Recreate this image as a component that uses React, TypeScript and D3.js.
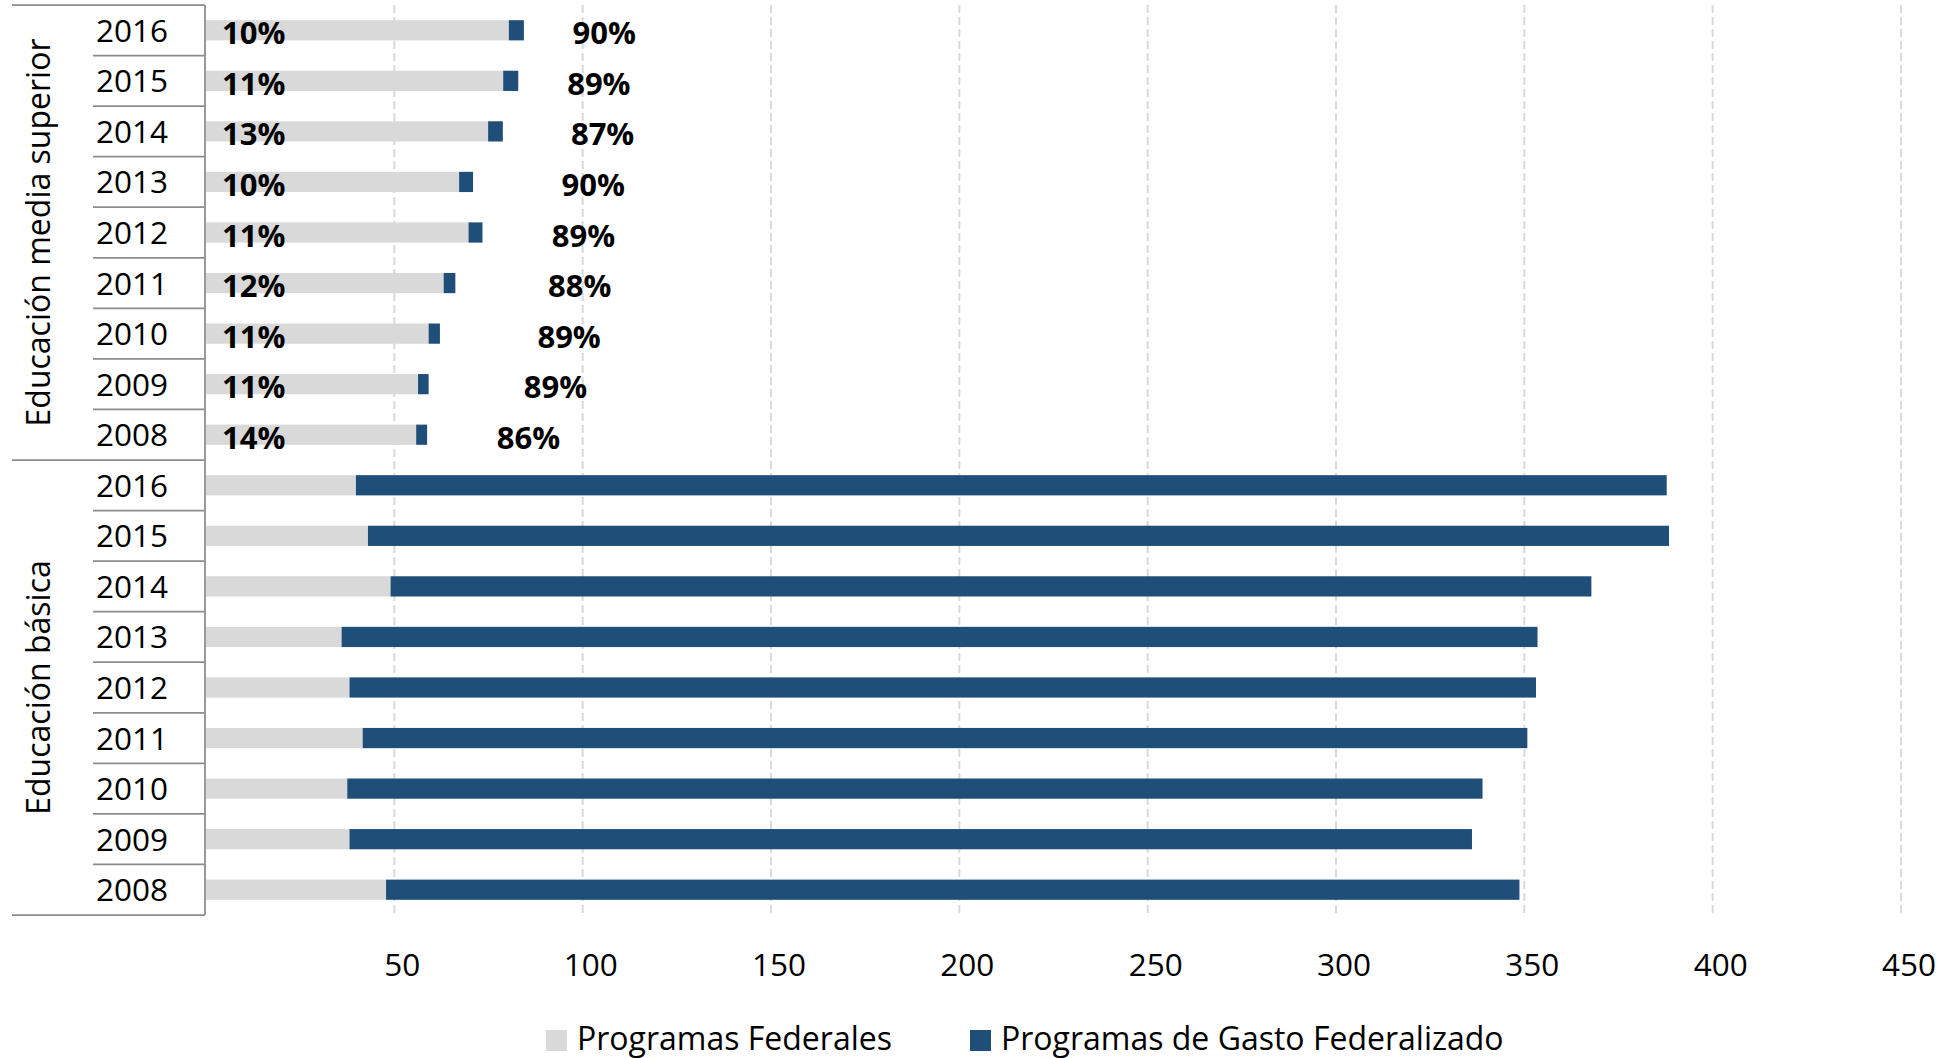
import * as d3 from 'd3'

// años de cada bloque (de arriba hacia abajo)
const years = ['2016', '2015', '2014', '2013', '2012', '2011', '2010', '2009', '2008']
const groups = ['Educación media superior', 'Educación básica']

// Educación media superior
const emsFederales = [80.4, 78.9, 74.9, 67.2, 69.7, 63.1, 59.1, 56.3, 55.8]
const emsGasto = [4.0, 4.0, 3.9, 3.7, 3.7, 3.1, 3.0, 2.8, 2.9]
const emsPctFed = ['10%', '11%', '13%', '10%', '11%', '12%', '11%', '11%', '14%']
const emsPctGasto = ['90%', '89%', '87%', '90%', '89%', '88%', '89%', '89%', '86%']
const emsPctGastoAt = [105.7, 104.3, 105.3, 102.8, 100.2, 99.2, 96.4, 92.8, 85.6]

// Educación básica
const ebFederales = [39.8, 43.0, 49.0, 36.0, 38.1, 41.6, 37.5, 38.1, 47.8]
const ebGasto = [348.0, 345.4, 318.8, 317.5, 315.0, 309.2, 301.4, 298.0, 300.9]

const xTicks = [50, 100, 150, 200, 250, 300, 350, 400, 450]
const legendItems = ['Programas Federales', 'Programas de Gasto Federalizado']

const W = 1954
const H = 1058
const FONT = '"Open Sans", "Noto Sans", sans-serif'
const GRAY = '#d9d9d9'
const BLUE = '#1f4e79'
const LINE = '#8c8c8c'

export default function App() {
  const rows = [
    ...years.map((yr, i) => ({ key: 'ems-' + yr, year: yr, fed: emsFederales[i], gasto: emsGasto[i], i, top: true })),
    ...years.map((yr, i) => ({ key: 'eb-' + yr, year: yr, fed: ebFederales[i], gasto: ebGasto[i], i, top: false })),
  ]

  const x = d3.scaleLinear().domain([0, 450]).range([206, 1901])
  const y = d3.scaleBand<string>()
    .domain(rows.map(r => r.key))
    .range([5, 915])
    .paddingInner(0.6)
    .paddingOuter(0.3)
  const step = y.step()
  const bw = y.bandwidth()
  const top0 = 5
  const bottom0 = 915
  const cy = (k: string) => (y(k) as number) + bw / 2

  return (
    <div style={{ position: 'absolute', left: 0, top: 0 }}>
      <svg width={W} height={H} style={{ display: 'block', fontFamily: FONT }}>
        <rect width={W} height={H} fill="#fff" />

        {/* rejilla */}
        {xTicks.map(t => (
          <line key={t} x1={x(t)} x2={x(t)} y1={top0} y2={913}
            stroke={GRAY} strokeWidth={2} strokeDasharray="8,4" />
        ))}

        {/* barras */}
        {rows.map(r => (
          <g key={r.key}>
            <rect x={x(0)} y={y(r.key)} width={x(r.fed) - x(0)} height={bw} fill={GRAY} />
            <rect x={x(r.fed)} y={y(r.key)} width={x(r.fed + r.gasto) - x(r.fed)} height={bw} fill={BLUE} />
          </g>
        ))}

        {/* etiquetas de porcentaje */}
        {rows.filter(r => r.top).map(r => (
          <g key={'l' + r.key} fontWeight="bold" fontSize={31} fill="#000">
            <text x={x(0) + 16} y={cy(r.key) + 2} dominantBaseline="central">{emsPctFed[r.i]}</text>
            <text x={x(emsPctGastoAt[r.i])} y={cy(r.key) + 2} dominantBaseline="central" textAnchor="middle">{emsPctGasto[r.i]}</text>
          </g>
        ))}

        {/* tabla de categorías */}
        <line x1={205} x2={205} y1={top0} y2={bottom0} stroke={LINE} strokeWidth={1.75} />
        {rows.map((r, k) => k === 0 || k === years.length ? null : (
          <line key={'s' + r.key} x1={93} x2={205} y1={top0 + k * step} y2={top0 + k * step}
            stroke={LINE} strokeWidth={1.75} />
        ))}
        {[0, years.length, rows.length].map(k => (
          <line key={'g' + k} x1={12} x2={205} y1={top0 + k * step} y2={top0 + k * step}
            stroke={LINE} strokeWidth={1.75} />
        ))}
        {rows.map(r => (
          <text key={'y' + r.key} x={132} y={cy(r.key) - 1} dominantBaseline="central"
            textAnchor="middle" fontSize={31.5} fill="#000">{r.year}</text>
        ))}
        {groups.map((g, gi) => {
          const mid = top0 + (gi * years.length + years.length / 2) * step
          return (
            <text key={g} transform={`translate(50, ${mid}) rotate(-90)`} textAnchor="middle"
              fontSize={32} fill="#000">{g}</text>
          )
        })}

        {/* eje x */}
        {xTicks.map(t => (
          <text key={'t' + t} x={x(t) + 8} y={976} textAnchor="middle" fontSize={31.5} fill="#000">{t}</text>
        ))}

        {/* leyenda */}
        <g fontSize={32} fill="#000">
          <rect x={546} y={1030} width={21} height={21} fill={GRAY} />
          <text x={577} y={1050}>{legendItems[0]}</text>
          <rect x={970} y={1030} width={21} height={21} fill={BLUE} />
          <text x={1001} y={1050}>{legendItems[1]}</text>
        </g>
      </svg>
    </div>
  )
}
